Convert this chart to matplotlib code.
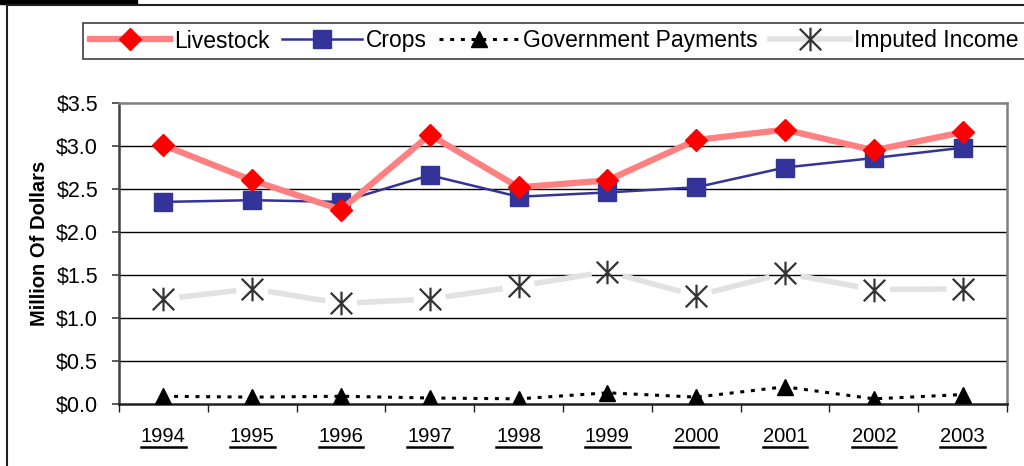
import matplotlib
matplotlib.use("Agg")
import matplotlib.pyplot as plt
import numpy as np
from matplotlib.path import Path
from matplotlib.lines import Line2D

years = ["1994", "1995", "1996", "1997", "1998", "1999", "2000", "2001", "2002", "2003"]
livestock = [3.01, 2.60, 2.26, 3.13, 2.52, 2.60, 3.07, 3.19, 2.95, 3.16]
crops = [2.35, 2.37, 2.35, 2.66, 2.41, 2.46, 2.52, 2.75, 2.86, 2.98]
gov_payments = [0.09, 0.08, 0.09, 0.07, 0.06, 0.13, 0.08, 0.20, 0.06, 0.11]
imputed_income = [1.22, 1.34, 1.17, 1.22, 1.37, 1.54, 1.26, 1.52, 1.33, 1.34]
y_ticks = [0.0, 0.5, 1.0, 1.5, 2.0, 2.5, 3.0, 3.5]

plt.rcParams["font.family"] = ["Liberation Sans", "DejaVu Sans"]

W, H = 1024, 466
fig = plt.figure(figsize=(W / 100, H / 100), dpi=100)
ax = fig.add_axes([119 / W, 1 - 404 / H, 888 / W, 301 / H])

x = np.arange(len(years))
ax.set_xlim(-0.5, len(years) - 0.5)
ax.set_ylim(0, 3.5)

# asterisk marker: an X crossed by a vertical stroke
star_path = Path(
    [(-1, -1), (1, 1), (-1, 1), (1, -1), (0, -1.1), (0, 1.1)],
    [Path.MOVETO, Path.LINETO, Path.MOVETO, Path.LINETO, Path.MOVETO, Path.LINETO],
)

# gridlines
for v in y_ticks[1:-1]:
    ax.axhline(v, color="black", lw=1.0, zorder=1)

# Imputed income: light line broken around each marker
fig.canvas.draw()
pts = ax.transData.transform(np.column_stack([x, imputed_income]))
gap = 16
for i in range(len(pts) - 1):
    p0, p1 = pts[i], pts[i + 1]
    d = p1 - p0
    n = d / np.hypot(*d)
    a = ax.transData.inverted().transform(p0 + n * gap)
    b = ax.transData.inverted().transform(p1 - n * gap)
    ax.plot([a[0], b[0]], [a[1], b[1]], color="#e2e2e2", lw=4, solid_capstyle="butt", zorder=2)
ax.plot(x, imputed_income, ls="none", marker=star_path, ms=17, mew=1.6,
        mec="#333333", mfc="none", zorder=3)

# Government payments
ax.plot(x, gov_payments, color="black", lw=2.2, ls=(0, (1.3, 2.2)),
        marker="^", ms=12, mfc="black", mec="black", zorder=4)

# Crops
ax.plot(x, crops, color="#333399", lw=1.8, marker="s", ms=13,
        mfc="#333399", mec="#333399", zorder=5)

# Livestock
ax.plot(x, livestock, color="#ff8080", lw=4.5, marker="D", ms=11,
        mfc="#ff0000", mec="#ff0000", zorder=6)

# axes styling
for side in ("top", "right"):
    ax.spines[side].set_color("#808080")
    ax.spines[side].set_linewidth(1.8)
ax.spines["left"].set_color("#404040")
ax.spines["left"].set_linewidth(1.8)
ax.spines["bottom"].set_color("#202020")
ax.spines["bottom"].set_linewidth(1.8)

ax.set_yticks(y_ticks)
ax.set_yticklabels([f"${v:.1f}" for v in y_ticks], fontsize=15.5)
ax.tick_params(axis="y", length=5, width=1.2, color="#404040", pad=10)

ax.set_xticks(np.arange(-0.5, len(years), 1.0))
ax.set_xticklabels([])
ax.tick_params(axis="x", length=6, width=1.0, color="#202020")

# underlined category labels
fig.canvas.draw()
renderer = fig.canvas.get_renderer()
inv = fig.transFigure.inverted()
for xi, yr in zip(x, years):
    xf = inv.transform(ax.transData.transform((xi, 0)))[0]
    t = fig.text(xf, 1 - 436 / H, yr, fontsize=14.5, ha="center", va="center")
    bb = t.get_window_extent(renderer)
    y_line = 1 - 447 / H
    fig.add_artist(Line2D([bb.x0 / W, bb.x1 / W], [y_line, y_line],
                          color="black", lw=1.8, transform=fig.transFigure))

fig.text(40 / W, 1 - 243 / H, "Million Of Dollars", rotation=90, fontsize=14.5,
         fontweight="bold", ha="center", va="center")

# legend
handles = [
    Line2D([], [], color="#ff8080", lw=4.5, marker="D", ms=11, mfc="#ff0000", mec="#ff0000"),
    Line2D([], [], color="#333399", lw=1.8, marker="s", ms=13, mfc="#333399", mec="#333399"),
    Line2D([], [], color="black", lw=2.2, ls=(0, (1.3, 2.2)), marker="^", ms=12, mfc="black", mec="black"),
    Line2D([], [], color="#e2e2e2", lw=4, marker=star_path, ms=17, mew=1.6, mec="#333333", mfc="none"),
]
labels = ["Livestock", "Crops", "Government Payments", "Imputed Income"]
leg = fig.legend(handles, labels, loc="center", bbox_to_anchor=(554 / W, 1 - 41 / H),
                 ncol=4, fontsize=16.5, frameon=True, fancybox=False, framealpha=1,
                 edgecolor="#404040", handlelength=3.5, handletextpad=0.15,
                 columnspacing=0.55, borderpad=0.3, borderaxespad=0)
leg.get_frame().set_linewidth(1.2)

# outer frame
fig.add_artist(Line2D([7 / W, 7 / W], [0, 1 - 5 / H], color="#202020", lw=1.5, transform=fig.transFigure))
fig.add_artist(Line2D([7 / W, 1], [1 - 5 / H, 1 - 5 / H], color="#202020", lw=1.5, transform=fig.transFigure))
fig.add_artist(plt.Rectangle((0, 1 - 4 / H), 137 / W, 4 / H, color="black", transform=fig.transFigure))

fig.savefig("out.png", dpi=100)
